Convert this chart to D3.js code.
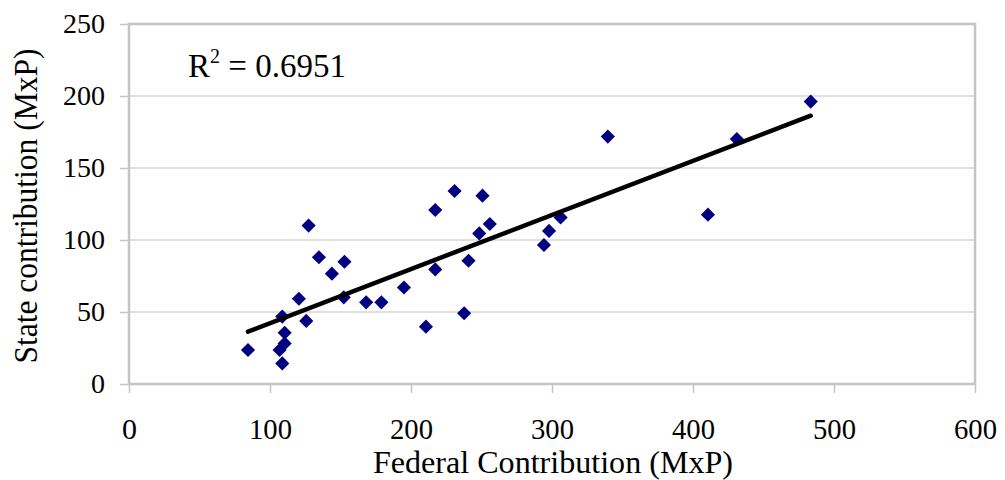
<!DOCTYPE html>
<html>
<head>
<meta charset="utf-8">
<script src="https://cdn.jsdelivr.net/npm/d3@7"></script>
<style>
  html, body { margin: 0; padding: 0; background: #fff; }
  svg { display: block; }
  svg text { font-family: "Liberation Serif", "Times New Roman", Times, serif !important; }
</style>
</head>
<body>
<svg id="chart" width="1005" height="480"></svg>
<script>
// Federal vs. state contributions (MxP), one point per state
const federal = [84.4, 127.4, 134.7, 152.8, 143.9, 120.5, 152.3, 108.7, 125.7, 110.4,
                 110.4, 106.8, 108.7, 168.2, 179.0, 195.0, 210.6, 217.2, 217.2, 230.9,
                 250.7, 240.8, 237.7, 248.4, 255.9, 294.3, 297.9, 306.1, 339.6, 410.6,
                 431.1, 483.5];
const state   = [23.6, 110.0, 88.0, 84.9, 76.6, 59.2, 60.2, 46.8, 43.8, 35.6,
                 28.2, 23.6, 14.3, 56.7, 56.7, 67.0, 39.8, 79.6, 120.8, 134.0,
                 130.8, 85.6, 49.1, 104.6, 111.1, 96.5, 106.3, 115.7, 171.8, 117.6,
                 170.1, 196.1];
const xTicks = [0, 100, 200, 300, 400, 500, 600];
const yTicks = [0, 50, 100, 150, 200, 250];
const rSquaredLabel = "0.6951";

const svg = d3.select("#chart");
const x = d3.scaleLinear().domain([0, 600]).range([129, 975]);
const y = d3.scaleLinear().domain([0, 250]).range([384, 24]);

// horizontal gridlines
svg.append("g").selectAll("line").data(yTicks.filter(d => d > 0 && d < 250)).join("line")
  .attr("x1", x(0)).attr("x2", x(600))
  .attr("y1", d => y(d)).attr("y2", d => y(d))
  .attr("stroke", "#d6d6d6").attr("stroke-width", 1.3);

// plot frame
svg.append("rect")
  .attr("x", x(0)).attr("y", y(250))
  .attr("width", x(600) - x(0)).attr("height", y(0) - y(250))
  .attr("fill", "none").attr("stroke", "#c4c4c4").attr("stroke-width", 2.5);

// y axis
const yAxis = svg.append("g").attr("transform", `translate(${x(0)},0)`)
  .call(d3.axisLeft(y).tickValues(yTicks).tickSize(9).tickPadding(15));
yAxis.select(".domain").remove();
yAxis.selectAll(".tick line").attr("stroke", "#c4c4c4").attr("stroke-width", 1.5);
yAxis.selectAll(".tick text").attr("font-size", 28).attr("fill", "#000");

// x axis (labels drawn slightly narrow)
const xAxis = svg.append("g").attr("transform", `translate(0,${y(0)})`)
  .call(d3.axisBottom(x).tickValues(xTicks).tickSize(9).tickPadding(25));
xAxis.select(".domain").remove();
xAxis.selectAll(".tick line").attr("stroke", "#c4c4c4").attr("stroke-width", 1.5);
xAxis.selectAll(".tick text").attr("font-size", 30).attr("fill", "#000")
  .attr("textLength", d => d === 0 ? 15 : 43).attr("lengthAdjust", "spacingAndGlyphs");

// axis titles
svg.append("text")
  .attr("x", 553).attr("y", 473)
  .attr("text-anchor", "middle").attr("font-size", 31)
  .attr("textLength", 360).attr("lengthAdjust", "spacingAndGlyphs")
  .text("Federal Contribution (MxP)");

svg.append("text")
  .attr("transform", "translate(37,206) rotate(-90)")
  .attr("text-anchor", "middle").attr("font-size", 34)
  .attr("textLength", 315).attr("lengthAdjust", "spacingAndGlyphs")
  .text("State contribution (MxP)");

// least-squares trend line
const n = federal.length;
const mx = d3.mean(federal), my = d3.mean(state);
let sxy = 0, sxx = 0;
for (let i = 0; i < n; i++) {
  sxy += (federal[i] - mx) * (state[i] - my);
  sxx += (federal[i] - mx) ** 2;
}
const slope = sxy / sxx, intercept = my - slope * mx;
const [xmin, xmax] = d3.extent(federal);

// markers
const pts = federal.map((f, i) => [f, state[i]]);
svg.append("g").selectAll("path").data(pts).join("path")
  .attr("d", d3.symbol(d3.symbolSquare, 100))
  .attr("transform", d => `translate(${x(d[0])},${y(d[1])}) rotate(45)`)
  .attr("fill", "#000080");

svg.append("line")
  .attr("x1", x(xmin)).attr("y1", y(intercept + slope * xmin))
  .attr("x2", x(xmax)).attr("y2", y(intercept + slope * xmax))
  .attr("stroke", "#000").attr("stroke-width", 4.5).attr("stroke-linecap", "round");

// R² annotation
const rt = svg.append("text").attr("x", 188).attr("y", 77).attr("font-size", 33);
rt.append("tspan").text("R");
rt.append("tspan").attr("font-size", 20).attr("dy", -14).text("2");
rt.append("tspan").attr("dy", 14).text(" = " + rSquaredLabel);
</script>
</body>
</html>
